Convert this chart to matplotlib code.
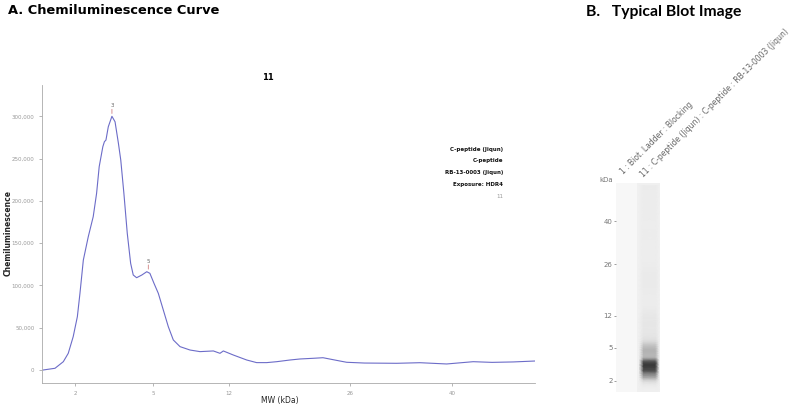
import numpy as np
import matplotlib
matplotlib.use("Agg")
import matplotlib.pyplot as plt
from matplotlib.colors import LinearSegmentedColormap
from matplotlib.ticker import FuncFormatter

# Ladder calibration (kDa) shared by the curve axis and the blot lane.
ladder_kda = [2, 5, 12, 26, 40]
ladder_pos = [75, 153, 229, 350, 452]

# Chemiluminescence trace for capillary 11.
curve_kda = [0.78, 1.23, 1.55, 1.74, 1.93, 2.09, 2.19, 2.32, 2.51, 2.70,
             2.83, 2.93, 3.07, 3.13, 3.19, 3.28, 3.42, 3.54, 3.67, 3.76,
             3.88, 4.01, 4.14, 4.24, 4.37, 4.57, 4.76, 4.88, 5.09, 5.49,
             5.95, 6.41, 6.87, 7.49, 8.41, 9.33, 10.56, 11.17, 11.48, 12.50,
             14.05, 15.20, 16.36, 17.52, 19.06, 20.21, 21.72, 22.88, 24.84, 25.62,
             28.0, 32.41, 35.61, 39.27, 42.92, 45.5, 48.41, 51.4]
curve_signal = [0, 2000, 9800, 19700, 39400, 63000, 90600, 130000, 157600, 181300,
                208900, 240400, 264000, 269900, 271900, 287600, 300000, 293500, 267900, 248200,
                208900, 161600, 126100, 112300, 109100, 112300, 116200, 114300, 102500, 90600,
                70900, 51200, 35500, 27600, 23600, 21700, 22500, 19700, 22500, 17700,
                11800, 8700, 8700, 9800, 11800, 13000, 13800, 14500, 10600, 9100,
                8200, 7900, 8600, 7100, 9800, 9000, 9500, 10600]

peak_kda = [3.42, 4.82]
peak_signal = [300000, 116000]
peak_labels = ["3", "5"]

info_lines = ["C-peptide (Jiqun)", "C-peptide", "RB-13-0003 (Jiqun)", "Exposure: HDR4"]
lane_labels = ["1 : Biot. Ladder : Blocking",
               "11 : C-peptide (Jiqun) : C-peptide : RB-13-0003 (Jiqun)"]


def ladder_scale(kda, pos):
    """Piecewise linear mapping kDa <-> position with linear extrapolation."""
    kda = np.asarray(kda, float)
    pos = np.asarray(pos, float)

    def mapper(a, b):
        def f(v):
            v = np.asarray(v, float)
            out = np.interp(v, a, b)
            lo = b[0] + (v - a[0]) * (b[1] - b[0]) / (a[1] - a[0])
            hi = b[-1] + (v - a[-1]) * (b[-1] - b[-2]) / (a[-1] - a[-2])
            out = np.where(v < a[0], lo, out)
            out = np.where(v > a[-1], hi, out)
            return out
        return f

    return mapper(kda, pos), mapper(pos, kda)


fwd, inv = ladder_scale(ladder_kda, ladder_pos)

fig = plt.figure(figsize=(8, 4.09), dpi=100)

# Panel titles
fig.text(8 / 800, 1 - 11 / 409, "A. Chemiluminescence Curve", fontsize=9.4,
         fontweight="bold", ha="left", va="center", family="DejaVu Sans")
fig.text(586 / 800, 1 - 12 / 409, "B.   Typical Blot Image", fontsize=11.3,
         fontweight="bold", ha="left", va="center", family="Lato")

# ---- A. chemiluminescence curve ----
ax = fig.add_axes([42 / 800, 26 / 409, 493 / 800, 298 / 409])
ax.plot(curve_kda, curve_signal, color="#6c6cc8", lw=0.8)
ax.set_xscale("function", functions=(fwd, inv))
ax.set_xlim(0.73, 51.4)
ax.set_ylim(-15400, 337000)

for k, s, lab in zip(peak_kda, peak_signal, peak_labels):
    ax.annotate("", (k, s), xytext=(0, 5), textcoords="offset points",
                arrowprops=dict(arrowstyle="-", color="#d08080", lw=0.6,
                                shrinkA=0, shrinkB=2))
    ax.annotate(lab, (k, s), xytext=(0, 6), textcoords="offset points",
                ha="center", va="bottom", fontsize=4, color="#666666")

ax.set_xticks(ladder_kda)
ax.set_xticklabels([str(k) for k in ladder_kda])
ax.set_yticks(np.arange(0, 300001, 50000))
ax.yaxis.set_major_formatter(FuncFormatter(lambda v, p: f"{int(v):,}"))
ax.tick_params(labelsize=4, colors="#999999", length=2, width=0.5)
for side in ["top", "right"]:
    ax.spines[side].set_visible(False)
for side in ["left", "bottom"]:
    ax.spines[side].set_color("#aaaaaa")
    ax.spines[side].set_linewidth(0.6)

fig.text(280 / 800, 1 - 400 / 409, "MW (kDa)", fontsize=5.5, color="#222222",
         ha="center", va="center")
fig.text(8 / 800, 1 - 233 / 409, "Chemiluminescence", fontsize=5.5, color="#222222",
         fontweight="bold", rotation=90, ha="center", va="center")

fig.text(268 / 800, 1 - 77 / 409, "11", fontsize=6, fontweight="bold",
         ha="center", va="center")
for i, line in enumerate(info_lines):
    fig.text(503 / 800, 1 - (149.3 + 11.6 * i) / 409, line, fontsize=4,
             fontweight="bold", ha="right", va="center", color="#111111")
fig.text(503 / 800, 1 - 196 / 409, "11", fontsize=4, ha="right",
         va="center", color="#999999")

# ---- B. blot lane rendered from the same trace ----
bx = fig.add_axes([616 / 800, 17 / 409, 44 / 800, 209 / 409])
bx.set_yscale("function", functions=(fwd, inv))
bx.set_xlim(0, 2)
bx.set_ylim(1.0, 52.3)
bx.axvspan(0, 0.95, color="#f7f7f7", lw=0)
bx.axvspan(0.95, 2, color="#f0f0f0", lw=0)

lane_cmap = LinearSegmentedColormap.from_list(
    "lane", [(0.0, "#f0f0f0"), (0.15, "#dcdcdc"), (0.45, "#a8a8a8"),
             (0.75, "#5a5a5a"), (1.0, "#3a3a3a")])
sig = np.asarray(curve_signal, float)
profile = np.array([0.0, 1.0, 1.0, 0.0])
X, Y = np.meshgrid([1.05, 1.25, 1.8, 1.95], curve_kda)
C = sig[:, None] * profile[None, :]
bx.pcolormesh(X, Y, C, shading="gouraud", cmap=lane_cmap, vmin=0, vmax=300000)

bx.set_yticks(ladder_kda)
bx.set_yticklabels([str(k) for k in ladder_kda])
bx.set_xticks([])
bx.tick_params(axis="y", labelsize=5, colors="#777777", length=1.5, width=0.5, pad=1)
for sp in bx.spines.values():
    sp.set_visible(False)

fig.text(606 / 800, 1 - 180 / 409, "kDa", fontsize=5, color="#777777",
         ha="center", va="center")
fig.text(625 / 800, 1 - 176 / 409, lane_labels[0], fontsize=5.5, color="#666666",
         rotation=45, rotation_mode="anchor", ha="left", va="bottom")
fig.text(645 / 800, 1 - 179 / 409, lane_labels[1], fontsize=5.5, color="#666666",
         rotation=45, rotation_mode="anchor", ha="left", va="bottom")

fig.savefig("out.png", dpi=100)
